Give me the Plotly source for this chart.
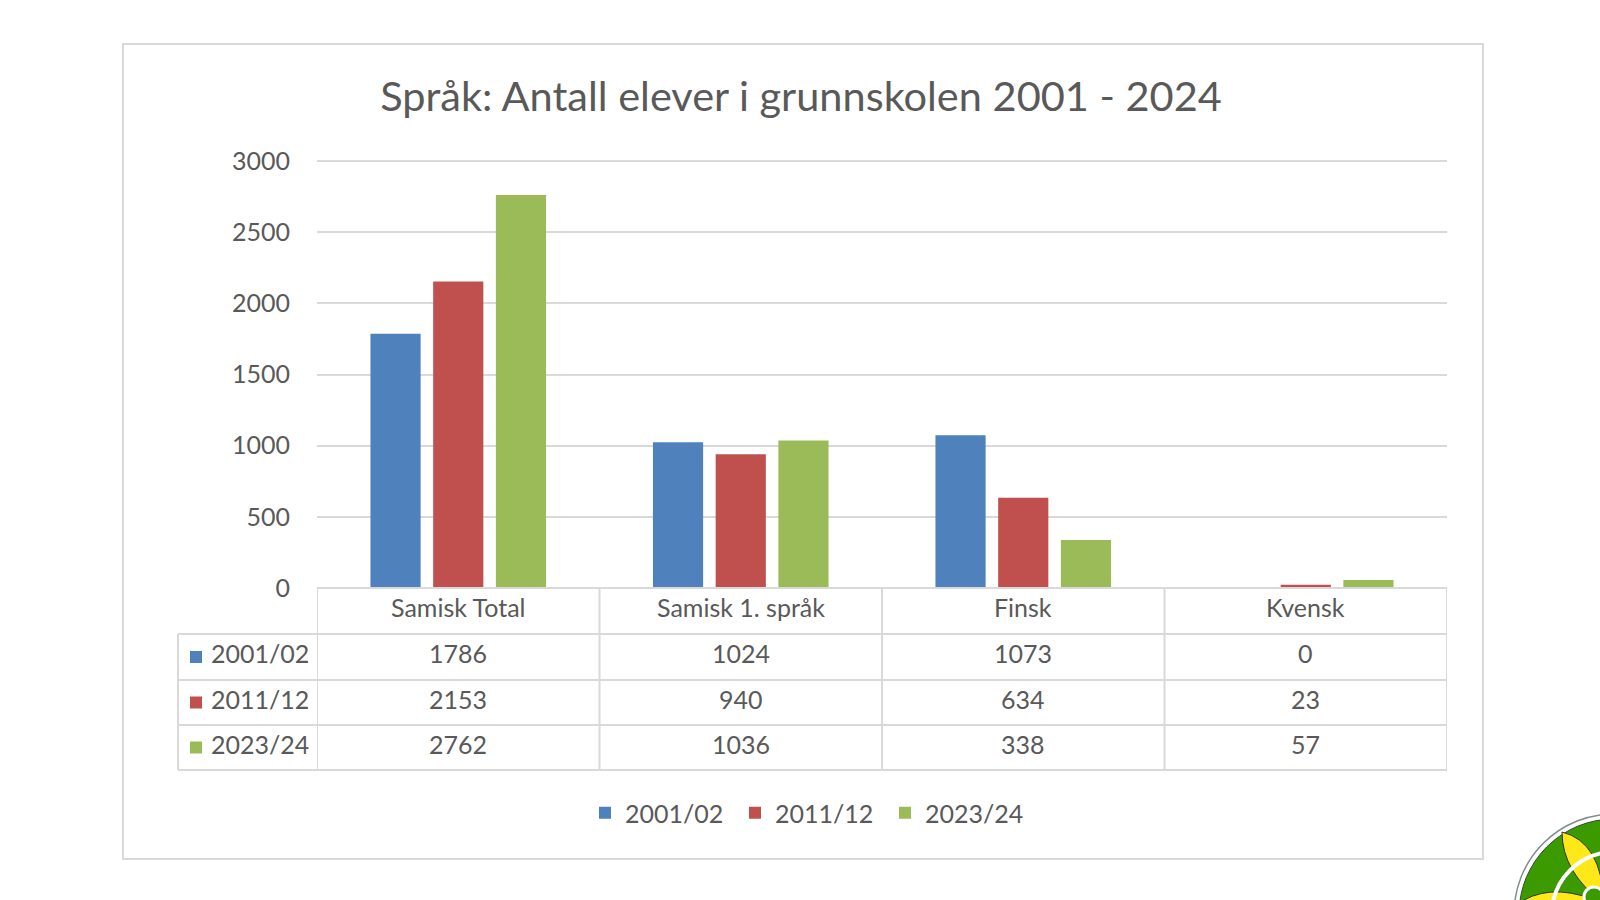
import plotly.graph_objects as go

categories = ["Samisk Total", "Samisk 1. språk", "Finsk", "Kvensk"]
series_names = ["2001/02", "2011/12", "2023/24"]
v2001 = [1786, 1024, 1073, 0]
v2011 = [2153, 940, 634, 23]
v2023 = [2762, 1036, 338, 57]
values = [v2001, v2011, v2023]
colors = ["#4F81BD", "#C0504D", "#9BBB59"]
y_ticks = [0, 500, 1000, 1500, 2000, 2500, 3000]

W, H = 1600, 900
FONT = "Lato"
TXT = "#595959"
GRID = "#D9D9D9"

def px(x):
    return x / W

def py(y):
    return 1 - y / H

fig = go.Figure()
for name, vals, col in zip(series_names, values, colors):
    fig.add_trace(go.Bar(x=categories, y=vals, name=name,
                         marker=dict(color=col, line=dict(width=0))))

plot_left, plot_right = 317, 1447
y0_px, y3000_px = 588, 161
extra_px = 6
y_top_px = y3000_px - extra_px
y_max = 3000 * (y0_px - y_top_px) / (y0_px - y3000_px)

shapes = []
annotations = []

shapes.append(dict(type="rect", xref="paper", yref="paper",
                   x0=px(123), x1=px(1483), y0=py(44), y1=py(859),
                   line=dict(color=GRID, width=2), fillcolor="rgba(0,0,0,0)", layer="below"))

header_top, row_lines = 588, [634, 680, 725, 770]
table_left = 178
TXT_SHIFT = 4
shapes.append(dict(type="line", xref="x", yref="paper", x0=-0.5, x1=3.5,
                   y0=py(header_top), y1=py(header_top), line=dict(color=GRID, width=2)))
for yl in row_lines:
    shapes.append(dict(type="line", xref="paper", yref="paper", x0=px(table_left), x1=px(plot_right),
                       y0=py(yl), y1=py(yl), line=dict(color=GRID, width=2)))
shapes.append(dict(type="line", xref="paper", yref="paper", x0=px(table_left), x1=px(table_left),
                   y0=py(row_lines[0]), y1=py(row_lines[-1]), line=dict(color=GRID, width=2)))
for i in range(len(categories) + 1):
    shapes.append(dict(type="line", xref="x", yref="paper", x0=i - 0.5, x1=i - 0.5,
                       y0=py(header_top), y1=py(row_lines[-1]), line=dict(color=GRID, width=2)))

for c in categories:
    annotations.append(dict(x=c, y=py((header_top + row_lines[0]) / 2 - TXT_SHIFT), xref="x", yref="paper",
                            text=c, showarrow=False, font=dict(family=FONT, size=25, color=TXT),
                            xanchor="center", yanchor="middle"))
for r, (name, vals, col) in enumerate(zip(series_names, values, colors)):
    ytop, ybot = row_lines[r], row_lines[r + 1]
    yc = (ytop + ybot) / 2
    shapes.append(dict(type="rect", xref="paper", yref="paper", x0=px(190), x1=px(202),
                       y0=py(yc + 6), y1=py(yc - 6), fillcolor=col, line=dict(width=0)))
    annotations.append(dict(x=px(209), y=py(yc - TXT_SHIFT), xref="paper", yref="paper", text=name,
                            showarrow=False, font=dict(family=FONT, size=25, color=TXT),
                            xanchor="left", yanchor="middle"))
    for c, v in zip(categories, vals):
        annotations.append(dict(x=c, y=py(yc - TXT_SHIFT), xref="x", yref="paper", text=str(v),
                                showarrow=False, font=dict(family=FONT, size=25, color=TXT),
                                xanchor="center", yanchor="middle"))

# logo (decorative, bottom right)
cx, cy = 1614, 914
def circ(r, fill, line_col, lw):
    return dict(type="circle", xref="paper", yref="paper",
                x0=px(cx - r), x1=px(cx + r), y0=py(cy + r), y1=py(cy - r),
                fillcolor=fill, line=dict(color=line_col, width=lw), layer="above")
shapes.append(circ(100, "white", "#7F8C8D", 1.5))
shapes.append(circ(95, "#3A9A00", "#2F4F2F", 1))
def petal(tx, ty, c1, c2):
    return dict(type="path", xref="paper", yref="paper",
                path=f"M {px(cx-10)},{py(cy-10)} Q {px(c1[0])},{py(c1[1])} {px(tx)},{py(ty)} "
                     f"Q {px(c2[0])},{py(c2[1])} {px(cx-10)},{py(cy-10)} Z",
                fillcolor="#FFE81A", line=dict(color="#333333", width=1), layer="above")
shapes.append(petal(1562, 832, (1562, 872), (1602, 842)))
shapes.append(petal(1524, 900, (1557, 882), (1562, 917)))
shapes.append(dict(type="circle", xref="paper", yref="paper",
                   x0=px(cx - 62), x1=px(cx + 62), y0=py(cy + 62), y1=py(cy - 62),
                   fillcolor="rgba(0,0,0,0)", line=dict(color="white", width=4), layer="above"))
shapes.append(dict(type="circle", xref="paper", yref="paper",
                   x0=px(1584), x1=px(1604), y0=py(907), y1=py(887),
                   fillcolor="#3A9A00", line=dict(color="white", width=3), layer="above"))

fig.update_layout(
    width=W, height=H,
    margin=dict(l=0, r=0, t=0, b=0, autoexpand=False),
    paper_bgcolor="white", plot_bgcolor="white",
    barmode="group", bargap=0.334, bargroupgap=0.2,
    title=dict(text="Språk: Antall elever i grunnskolen 2001 - 2024",
               x=801 / W, xanchor="center", y=py(96), yanchor="middle",
               font=dict(family=FONT, size=41.5, color=TXT)),
    xaxis=dict(domain=[px(plot_left), px(plot_right)], range=[-0.5, 3.5],
               showticklabels=False, showgrid=False, zeroline=False, showline=False, ticks=""),
    yaxis=dict(domain=[py(y0_px), py(y_top_px)], range=[0, y_max],
               tickvals=y_ticks, ticktext=[str(t) for t in y_ticks],
               showgrid=True, gridcolor=GRID, gridwidth=2, zeroline=False, showline=False,
               ticks="", ticklabelstandoff=26,
               tickfont=dict(family=FONT, size=25, color=TXT)),
    legend=dict(orientation="h", x=585 / W, xanchor="left", y=py(813), yanchor="middle",
                font=dict(family=FONT, size=25, color=TXT), itemwidth=30,
                entrywidth=105, entrywidthmode="pixels",
                bgcolor="rgba(0,0,0,0)"),
    showlegend=True,
    shapes=shapes,
    annotations=annotations,
)

fig.write_html("out.html")
